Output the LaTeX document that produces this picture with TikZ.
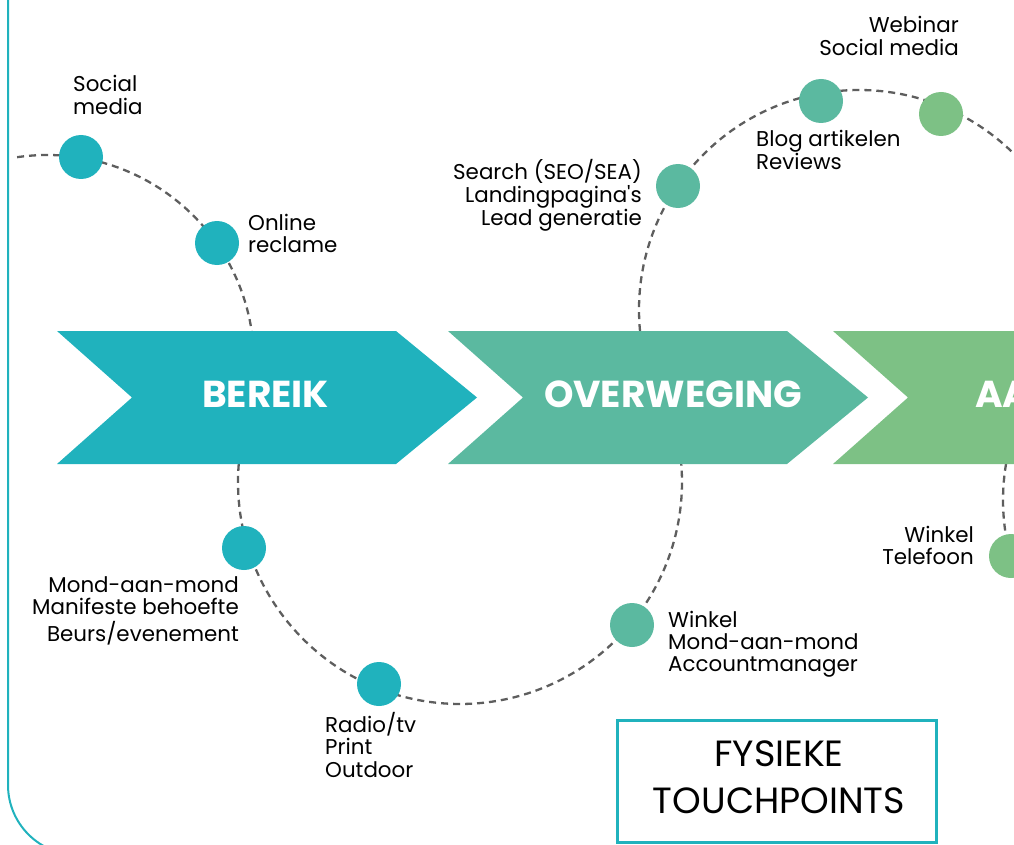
\documentclass[tikz,border=0pt]{standalone}
\usepackage{fontspec}
\setmainfont{Poppins}
\newfontfamily\plainpop{Poppins}[Ligatures=TeXOff]
\definecolor{cteal}{HTML}{20B2BD}
\definecolor{cmint}{HTML}{5BB9A0}
\definecolor{cgreen}{HTML}{7DC185}
\definecolor{cdash}{HTML}{5E5E5E}
\newcommand\lbl[2]{\begin{tabular}[t]{@{}#1@{}}#2\end{tabular}}
\begin{document}
\begin{tikzpicture}[x=1pt,y=-1pt,
  dot/.style={circle,minimum size=44pt,inner sep=0pt,fill=#1},
  touch/.style={draw=cdash,line width=2.3pt,dash pattern=on 7pt off 5pt},
  lab/.style={inner sep=0pt,font=\fontsize{21.4}{22}\selectfont},
  phase/.style={text=white,inner sep=0pt,anchor=base,font=\fontsize{37.5}{40}\selectfont\bfseries},
  frame/.style={draw=cteal,line width=2pt}
]
\useasboundingbox (0,0) rectangle (1014,845);
\clip (0,0) rectangle (1014,845);

% outer frame
\draw[frame,rounded corners=70pt] (8,-30) -- (8,855) -- (1100,855);

% dashed touchpoint arcs
\coordinate (ulc) at (47,362);
\coordinate (urc) at (859,310);
\coordinate (llc) at (460,482);
\coordinate (lrc) at (1220,500);
\draw[touch] (ulc) ++(-98.3:207) arc[start angle=-98.3,end angle=-8.6,radius=207];
\draw[touch] (urc) ++(174.5:220) arc[start angle=174.5,end angle=322,radius=220];
\draw[touch] (llc) ++(184.7:222) arc[start angle=184.7,end angle=-4.7,radius=222];
\draw[touch] (lrc) ++(189.6:217) arc[start angle=189.6,end angle=160,radius=217];

% chevrons
\fill[cteal] (57,331) -- (396,331) -- (477,397.5) -- (396,464) -- (57,464) -- (132,397.5) -- cycle;
\fill[cmint] (448,331) -- (787,331) -- (868,397.5) -- (787,464) -- (448,464) -- (523,397.5) -- cycle;
\fill[cgreen] (833,331) -- (1172,331) -- (1253,397.5) -- (1172,464) -- (833,464) -- (908,397.5) -- cycle;
\node[phase] (p1) at (265.5,407) {BEREIK};
\node[phase] (p2) at (673,407) {OVERWEGING};
\node[phase,anchor=base west] (p3) at (975,407) {AA};

% touchpoint dots
\node[dot=cteal] (d1) at (81,157) {};
\node[dot=cteal] (d2) at (217,243) {};
\node[dot=cteal] (d3) at (244,548) {};
\node[dot=cteal] (d4) at (379,684) {};
\node[dot=cmint] (d5) at (678,186) {};
\node[dot=cmint] (d6) at (821,101) {};
\node[dot=cgreen] (d7) at (941,114) {};
\node[dot=cmint] (d8) at (632,625) {};
\node[dot=cgreen] (d9) at (1011,556) {};

% labels
\node[lab,anchor=base west] (t1) at (73,92) {\lbl{l}{Social\\media}};
\node[lab,anchor=base west] (t2) at (248,230) {\lbl{l}{Online\\reclame}};
\node[lab,anchor=base east] (t3) at (642,179) {\lbl{r}{Search (SEO/SEA)\\Landingpagina{\plainpop '}s\\Lead generatie}};
\node[lab,anchor=base west] (t4) at (756,147) {\lbl{l}{Blog artikelen\\Reviews}};
\node[lab,anchor=base east] (t5) at (959,33) {\lbl{r}{Webinar\\Social media}};
\node[lab,anchor=base east] (t7) at (239,592) {\lbl{r}{Mond-aan-mond\\Manifeste behoefte\\Beurs/evenement}};
\node[lab,anchor=base west] (t8) at (325,732) {\lbl{l}{Radio/tv\\Print\\Outdoor}};
\node[lab,anchor=base west] (t9) at (668,627) {\lbl{l}{Winkel\\Mond-aan-mond\\Accountmanager}};
\node[lab,anchor=base east] (t10) at (974,542) {\lbl{r}{Winkel\\Telefoon}};

% legend box
\draw[draw=cteal,line width=3pt] (617,720) rectangle (936,842);
\node[inner sep=0pt,anchor=base,font=\fontsize{36.5}{47}\selectfont] (leg) at (779,766) {\lbl{c}{FYSIEKE\\TOUCHPOINTS}};
\end{tikzpicture}
\end{document}
